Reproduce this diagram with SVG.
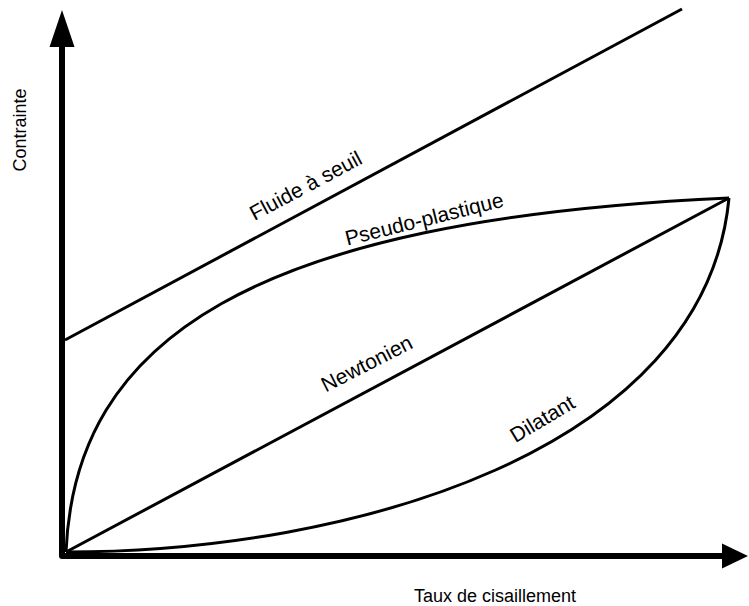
<svg xmlns="http://www.w3.org/2000/svg" width="749" height="606" viewBox="0 0 749 606">
<style>
.ax{fill:none;stroke:#000;stroke-width:6;stroke-linejoin:round}
.c{fill:none;stroke:#000;stroke-width:3}
.head{fill:#000}
text{font-family:"Liberation Sans",Arial,sans-serif;fill:#000}
.al{font-size:18px}
.cl{font-size:21px}
</style>
<rect width="749" height="606" fill="#fff"/>
<g id="connectors">
<path id="fluide" class="c" d="M65,340 L682,9"/>
<path id="pseudo" class="c" d="M66,552 C75,340 250,220 729,198"/>
<path id="newton" class="c" d="M66,552 L729,198"/>
<path id="dilatant" class="c" d="M66,552 C350,552 705,452 729,198"/>
</g>
<g id="axes">
<path class="ax" d="M62,46 V556 H723"/>
<polygon class="head" points="62,10 49.5,47 74.5,47"/>
<polygon class="head" points="748,556 722,543.5 722,568.5"/>
</g>
<g id="label-y"><text class="al" text-anchor="middle" transform="translate(26,130) rotate(-90)">Contrainte</text></g>
<g id="label-x"><text class="al" text-anchor="middle" x="495" y="602">Taux de cisaillement</text></g>
<g id="label-fluide"><text class="cl" text-anchor="middle" transform="translate(309,192) rotate(-28)">Fluide à seuil</text></g>
<g id="label-pseudo"><text class="cl" text-anchor="middle" transform="translate(426,226) rotate(-14)">Pseudo-plastique</text></g>
<g id="label-newton"><text class="cl" text-anchor="middle" transform="translate(370,370) rotate(-27)">Newtonien</text></g>
<g id="label-dilatant"><text class="cl" text-anchor="middle" transform="translate(546,425) rotate(-31)">Dilatant</text></g>
</svg>
